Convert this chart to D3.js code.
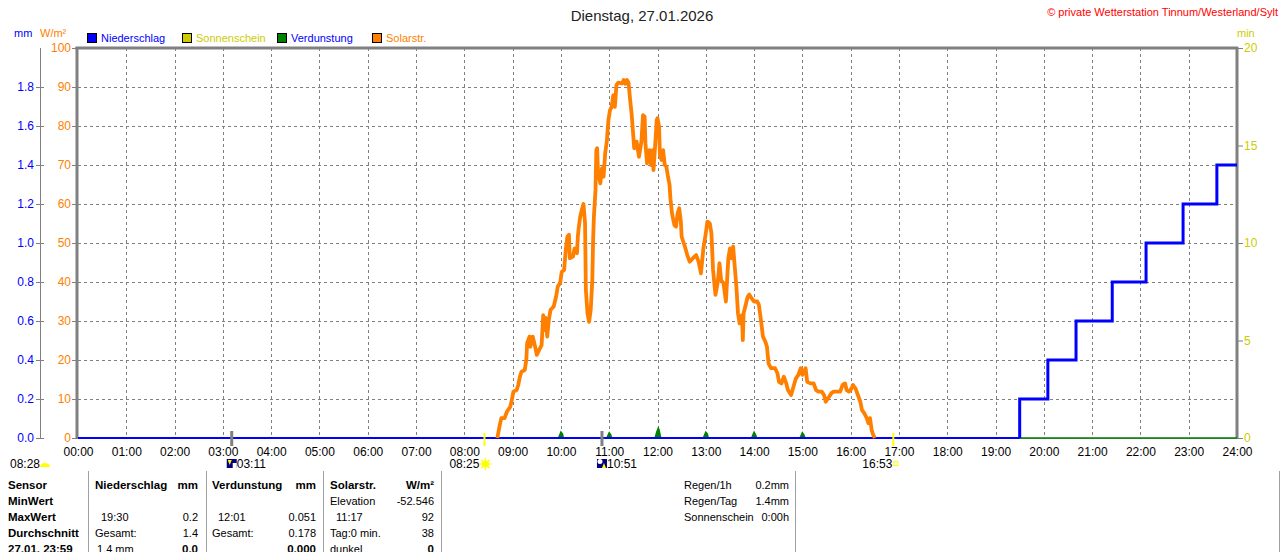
<!DOCTYPE html>
<html>
<head>
<meta charset="utf-8">
<script src="https://cdn.jsdelivr.net/npm/d3@7"></script>
<style>
  body { margin: 0; background: #fff; }
  svg { display: block; font-family: "Liberation Sans", Arial, sans-serif; }
</style>
</head>
<body>
<div id="wrapper"></div>
<script>
const solarTimes = ["08:41","08:44","08:46","08:50","08:53","08:57","08:59","09:01","09:05","09:07","09:09","09:11","09:15","09:17","09:18","09:21","09:22","09:25","09:28","09:30","09:33","09:36","09:38","09:40","09:41","09:43","09:45","09:47","09:51","09:54","09:56","09:59","10:01","10:04","10:06","10:08","10:10","10:11","10:15","10:17","10:20","10:21","10:22","10:24","10:26","10:28","10:30","10:31","10:33","10:35","10:37","10:39","10:40","10:41","10:43","10:44","10:45","10:46","10:49","10:51","10:53","10:55","10:57","10:59","11:01","11:03","11:05","11:07","11:09","11:11","11:16","11:18","11:20","11:22","11:24","11:26","11:28","11:30","11:31","11:34","11:37","11:40","11:42","11:44","11:45","11:47","11:50","11:52","11:54","11:55","11:57","11:59","12:00","12:02","12:03","12:05","12:07","12:09","12:11","12:13","12:15","12:16","12:18","12:21","12:23","12:25","12:27","12:29","12:30","12:34","12:37","12:40","12:44","12:48","12:51","12:54","12:57","13:00","13:02","13:05","13:07","13:09","13:12","13:15","13:17","13:19","13:22","13:25","13:28","13:30","13:32","13:34","13:36","13:38","13:40","13:42","13:45","13:46","13:47","13:50","13:52","13:54","13:57","14:00","14:04","14:06","14:09","14:11","14:14","14:16","14:18","14:21","14:26","14:29","14:31","14:34","14:37","14:40","14:42","14:46","14:49","14:52","14:55","14:58","15:00","15:02","15:04","15:06","15:10","15:14","15:17","15:20","15:24","15:27","15:29","15:32","15:36","15:39","15:47","15:50","15:53","15:55","15:58","16:01","16:03","16:06","16:09","16:12","16:14","16:17","16:20","16:22","16:24","16:26","16:28","16:30"];
const solarValues = [0,3.3,5.1,5.1,6.8,8.0,9.7,11.9,12.3,13.6,15.7,17.0,17.4,20.0,24.3,26.0,23.4,26.0,23.4,21.3,22.6,23.8,31.5,27.7,30.8,26.0,30.3,32.8,33.7,36.2,38.8,39.7,42.6,43.1,48.2,51.6,52.1,46.1,46.5,48.6,47.4,51.6,53.7,56.8,58.5,60.0,55.0,38.0,32.0,29.8,32.8,40.5,50.8,56.8,63.6,73.8,74.3,68.7,65.3,69.2,67.0,73.0,76.0,81.5,84.1,84.9,87.9,84.9,90.5,91.1,90.9,91.8,90.8,91.8,91.1,86.7,82.8,77.3,74.3,76.0,72.1,76.0,82.8,82.4,75.6,70.4,73.8,70.0,73.8,68.7,74.7,81.5,82.0,79.8,72.6,71.3,73.8,70.0,69.6,67.0,64.9,61.5,57.6,54.6,54.2,57.6,58.9,55.5,51.6,49.1,46.9,45.2,46.1,46.9,45.2,42.2,48.6,52.5,55.5,55.0,52.5,43.1,36.7,40.1,44.8,40.5,39.7,35.0,46.1,48.6,46.1,49.1,43.9,38.8,32.0,29.4,31.5,25.1,32.0,34.5,36.2,36.8,35.8,35.0,35.0,34.1,29.4,26.0,24.7,23.4,19.1,17.9,17.9,16.6,14.4,14.0,15.7,14.0,12.3,11.0,13.2,15.3,16.2,17.9,16.2,17.0,17.9,14.4,14.0,14.0,12.3,11.9,11.9,11.0,9.3,10.2,11.5,11.9,11.9,13.6,14.0,12.3,11.9,12.7,13.6,12.7,11.0,9.3,7.2,6.3,5.1,3.8,5.1,2.1,0.8,0];

// Niederschlag Summe mm
const rainTimes = ["00:00","19:30","20:05","20:40","21:25","22:07","22:53","23:35","24:00"];
const rainValues = [0,0.2,0.4,0.6,0.8,1.0,1.2,1.4,1.4];

// Verdunstung mm
const evapTimes = ["00:00","09:57","09:59","10:00","10:02","10:03","10:57","10:59","11:00","11:02","11:03","11:57","11:59","12:01","12:02","12:04","12:57","12:59","13:00","13:02","13:03","13:57","13:59","14:00","14:02","14:03","14:57","14:59","15:00","15:02","15:03","24:00"];
const evapValues = [0,0,0.02,0.031,0.02,0,0,0.018,0.027,0.015,0,0,0.03,0.051,0.04,0,0,0.02,0.03,0.02,0,0,0.02,0.03,0.015,0,0,0.018,0.027,0.015,0,0];

// Sonne / Mond
const sunTimes = ["08:25","16:53"];
const moonTimes = ["03:11","10:51"];
const twilightLabel = "08:28";

const hourTicks = d3.range(0, 25);
const mmTicks = [0,0.2,0.4,0.6,0.8,1.0,1.2,1.4,1.6,1.8];
const wTicks = d3.range(0, 101, 10);
const minTicks = [0,5,10,15,20];

const legendNames = ["Niederschlag","Sonnenschein","Verdunstung","Solarstr."];
const legendColors = ["#0000ff","#cccc00","#008000","#ff8000"];
const legendTextColors = ["#0000ff","#cccc00","#0000ff","#ff8000"];

const tableRows = [
  ["Sensor", "Niederschlag","mm", "Verdunstung","mm", "Solarstr.","W/m²", "Regen/1h","0.2mm"],
  ["MinWert", "","", "","", "Elevation","-52.546", "Regen/Tag","1.4mm"],
  ["MaxWert", "19:30","0.2", "12:01","0.051", "11:17","92", "Sonnenschein","0:00h"],
  ["Durchschnitt", "Gesamt:","1.4", "Gesamt:","0.178", "Tag:0 min.","38", "",""],
  ["27.01. 23:59", "1.4 mm","0.0", "","0.000", "dunkel","0", "",""]
];

const toMin = (s) => { const [h, m] = s.split(":").map(Number); return h * 60 + m; };

const dimension = {
  width: 1280,
  height: 552,
  left: 78,
  right: 1237,
  top: 48,
  bottom: 438
};

const svg = d3.select("#wrapper").append("svg")
  .attr("width", dimension.width)
  .attr("height", dimension.height);

const xScaler = d3.scaleLinear().domain([0, 1440]).range([dimension.left, dimension.right]);
const wScaler = d3.scaleLinear().domain([0, 100]).range([dimension.bottom, dimension.top]);
const mmScaler = d3.scaleLinear().domain([0, 2]).range([dimension.bottom, dimension.top]);
const minScaler = d3.scaleLinear().domain([0, 20]).range([dimension.bottom, dimension.top]);

// Titel
svg.append("text").attr("x", 642).attr("y", 21).attr("text-anchor", "middle")
  .attr("font-size", 15).attr("fill", "#222").text("Dienstag, 27.01.2026");
svg.append("text").attr("x", 1278).attr("y", 16).attr("text-anchor", "end")
  .attr("font-size", 11).attr("fill", "#ff0000").text("© private Wetterstation Tinnum/Westerland/Sylt");

// Einheiten
svg.append("text").attr("x", 14).attr("y", 37).attr("font-size", 11).attr("fill", "#0000ff").text("mm");
svg.append("text").attr("x", 40).attr("y", 37).attr("font-size", 11).attr("fill", "#ff8000").text("W/m²");
svg.append("text").attr("x", 1237).attr("y", 37).attr("font-size", 11).attr("fill", "#cccc00").text("min");

// Legende
const legendX = [87, 182, 277, 372];
const legend = svg.append("g");
legendNames.forEach((name, i) => {
  legend.append("rect").attr("x", legendX[i] + 0.5).attr("y", 33.5).attr("width", 9).attr("height", 9)
    .attr("fill", legendColors[i]).attr("stroke", "#000").attr("stroke-width", 1);
  legend.append("text").attr("x", legendX[i] + 14).attr("y", 42).attr("font-size", 11)
    .attr("fill", legendTextColors[i]).text(name);
});

// Gitter
const grid = svg.append("g").attr("stroke", "#808080").attr("stroke-dasharray", "3,3").attr("stroke-width", 1);
grid.selectAll("line.h").data(wTicks.filter(d => d > 0 && d < 100)).join("line")
  .attr("x1", dimension.left).attr("x2", dimension.right)
  .attr("y1", d => Math.round(wScaler(d)) + 0.5).attr("y2", d => Math.round(wScaler(d)) + 0.5);
grid.selectAll("line.v").data(hourTicks.filter(d => d > 0 && d < 24)).join("line")
  .attr("y1", dimension.top).attr("y2", dimension.bottom)
  .attr("x1", d => Math.round(xScaler(d * 60)) + 0.5).attr("x2", d => Math.round(xScaler(d * 60)) + 0.5);

// Achsen
function styleAxis(g, color) {
  g.select(".domain").remove();
  g.selectAll(".tick line").attr("stroke", "#808080");
  g.selectAll(".tick text").attr("fill", color).attr("font-size", 12)
    .attr("font-family", "\"Liberation Sans\", Arial, sans-serif");
}

svg.append("g").attr("transform", "translate(44,0)")
  .call(d3.axisLeft(mmScaler).tickValues(mmTicks).tickFormat(d3.format(".1f")).tickSize(8).tickPadding(2))
  .call(g => styleAxis(g, "#0000ff"));
svg.append("line").attr("x1", 40.5).attr("x2", 40.5).attr("y1", dimension.top).attr("y2", dimension.bottom)
  .attr("stroke", "#808080");

svg.append("g").attr("transform", "translate(77,0)")
  .call(d3.axisLeft(wScaler).tickValues(wTicks).tickFormat(d3.format("d")).tickSize(5).tickPadding(1))
  .call(g => styleAxis(g, "#ff8000"));

svg.append("g").attr("transform", "translate(1238,0)")
  .call(d3.axisRight(minScaler).tickValues(minTicks).tickFormat(d3.format("d")).tickSize(5).tickPadding(1))
  .call(g => styleAxis(g, "#cccc00"));

const hhmm = (d) => (d < 10 ? "0" + d : d) + ":00";
svg.append("g").attr("transform", `translate(0,${dimension.bottom})`)
  .call(d3.axisBottom(xScaler).tickValues(hourTicks.map(h => h * 60)).tickFormat(d => hhmm(d / 60)).tickSize(0).tickPadding(9))
  .call(g => styleAxis(g, "#000"));

// Rahmen
svg.append("line").attr("x1", dimension.left).attr("x2", dimension.right).attr("y1", dimension.bottom + 0.5).attr("y2", dimension.bottom + 0.5)
  .attr("stroke", "#808080");
svg.append("line").attr("x1", 75.5).attr("x2", dimension.right + 1).attr("y1", 48).attr("y2", 48)
  .attr("stroke", "#808080").attr("stroke-width", 3);
svg.append("line").attr("x1", 77).attr("x2", 77).attr("y1", 47).attr("y2", dimension.bottom + 1)
  .attr("stroke", "#808080").attr("stroke-width", 3);
svg.append("line").attr("x1", dimension.right).attr("x2", dimension.right).attr("y1", 47).attr("y2", dimension.bottom + 1)
  .attr("stroke", "#808080").attr("stroke-width", 3);

// Verdunstung
const evapData = evapTimes.map((t, i) => ({ t: toMin(t), v: evapValues[i] }));
svg.append("path").datum(evapData)
  .attr("fill", "#008000").attr("stroke", "#008000").attr("stroke-width", 1.5)
  .attr("d", d3.area().x(d => xScaler(d.t)).y0(mmScaler(0)).y1(d => mmScaler(d.v)));

// Niederschlag
const rainData = rainTimes.map((t, i) => ({ t: toMin(t), v: rainValues[i] }));
const rainLine = d3.line().x(d => xScaler(d.t)).y(d => mmScaler(d.v)).curve(d3.curveStepAfter);
svg.append("path").datum(rainData.slice(0, 2).map(d => ({ t: d.t, v: 0 })))
  .attr("fill", "none").attr("stroke", "#0000ff").attr("stroke-width", 2)
  .attr("d", d3.line().x(d => xScaler(d.t)).y(d => mmScaler(d.v)));
svg.append("path").datum([{ t: rainData[1].t, v: 0 }].concat(rainData.slice(1)))
  .attr("fill", "none").attr("stroke", "#0000ff").attr("stroke-width", 3)
  .attr("d", rainLine);

// Solarstrahlung
const solarData = solarTimes.map((t, i) => ({ t: toMin(t), v: solarValues[i] }));
svg.append("path").datum(solarData)
  .attr("fill", "none").attr("stroke", "#ff8000").attr("stroke-width", 3.8)
  .attr("stroke-linejoin", "round")
  .attr("d", d3.line().x(d => xScaler(d.t)).y(d => wScaler(d.v)));

// Sonnenauf-/untergang und Mond
const markers = svg.append("g");
sunTimes.forEach(t => {
  markers.append("rect").attr("x", xScaler(toMin(t)) - 1).attr("y", 433).attr("width", 2).attr("height", 13).attr("fill", "#ffff00");
});
moonTimes.forEach(t => {
  markers.append("rect").attr("x", xScaler(toMin(t)) - 1.5).attr("y", 431).attr("width", 3).attr("height", 15).attr("fill", "#808080");
});

const lbl = (x, y, txt, anchor) => svg.append("text").attr("x", x).attr("y", y).attr("font-size", 12)
  .attr("text-anchor", anchor || "start").attr("fill", "#000").text(txt);

// Dämmerung
lbl(10, 468, twilightLabel);
svg.append("path").attr("d", "M40,467 a5,4 0 0 1 10,0 z").attr("fill", "#ffff00");

// Mondaufgang
const m1 = xScaler(toMin(moonTimes[0]));
svg.append("rect").attr("x", m1 - 5).attr("y", 459).attr("width", 10).attr("height", 9).attr("fill", "#000080");
svg.append("rect").attr("x", m1 + 1).attr("y", 463).attr("width", 4).attr("height", 5).attr("fill", "#ffffff");
svg.append("path").attr("d", `M${m1 - 4},460 h4 l-2,5 z`).attr("fill", "#ffff00");
lbl(m1 + 5, 468, moonTimes[0]);

// Sonnenaufgang
const s1 = xScaler(toMin(sunTimes[0]));
lbl(s1 - 5, 468, sunTimes[0], "end");
const sun = svg.append("g").attr("transform", `translate(${s1 + 1},464)`);
sun.append("circle").attr("r", 3.8).attr("fill", "#ffff00");
d3.range(8).forEach(i => {
  const a = i * Math.PI / 4;
  sun.append("line").attr("x1", Math.cos(a) * 4).attr("y1", Math.sin(a) * 4)
    .attr("x2", Math.cos(a) * 6).attr("y2", Math.sin(a) * 6).attr("stroke", "#ffff00").attr("stroke-width", 1.3);
});

// Monduntergang
const m2 = xScaler(toMin(moonTimes[1]));
svg.append("rect").attr("x", m2 - 5).attr("y", 459).attr("width", 10).attr("height", 9).attr("fill", "#000080");
svg.append("circle").attr("cx", m2 - 2).attr("cy", 461.5).attr("r", 2.5).attr("fill", "#ffffff");
svg.append("path").attr("d", `M${m2 + 2},463 l-2,5 h4 z`).attr("fill", "#ffff00");
lbl(m2 + 5, 468, moonTimes[1]);

// Sonnenuntergang
const s2 = xScaler(toMin(sunTimes[1]));
lbl(s2 - 1, 468, sunTimes[1], "end");
svg.append("rect").attr("x", s2 + 0.5).attr("y", 461.5).attr("width", 4).attr("height", 4)
  .attr("fill", "none").attr("stroke", "#ffff00");

// Tabelle
const tableLines = [88.5, 206.5, 323.5, 441.5, 795.5, 1279.5];
tableLines.forEach(x => {
  svg.append("line").attr("x1", x).attr("x2", x).attr("y1", 471).attr("y2", 552).attr("stroke", "#a0a0a0");
});
const colLeft = [95, 212, 330, 684];
const colRight = [198, 316, 434, 789];
const table = svg.append("g").attr("font-size", 11.5).attr("fill", "#000");
tableRows.forEach((row, r) => {
  const y = 489 + r * 16;
  table.append("text").attr("x", 8).attr("y", y).attr("font-weight", "bold").attr("font-size", 11.5).text(row[0]);
  for (let c = 0; c < 4; c++) {
    const left = row[1 + c * 2], right = row[2 + c * 2];
    const bold = (r === 0 && c < 3) || (r === 4 && c < 3);
    const indent = (r === 2 && c < 3) ? 6 : (r === 4 && c === 0 ? 2 : 0);
    if (left) table.append("text").attr("x", colLeft[c] + indent).attr("y", y)
      .attr("font-size", r === 0 && c < 3 ? 11.5 : 11)
      .attr("font-weight", r === 0 && c < 3 ? "bold" : "normal").text(left);
    if (right) table.append("text").attr("x", colRight[c]).attr("y", y).attr("text-anchor", "end")
      .attr("font-size", bold ? 11.5 : 11)
      .attr("font-weight", bold ? "bold" : "normal").text(right);
  }
});
</script>
</body>
</html>
